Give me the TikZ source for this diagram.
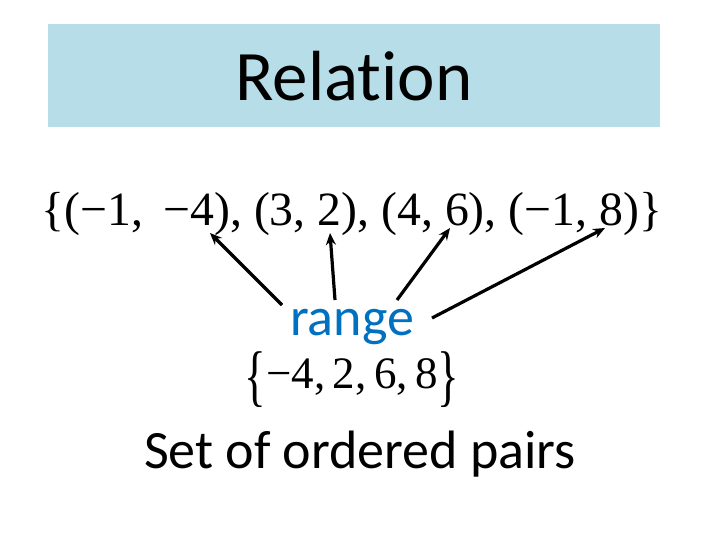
\documentclass[tikz,border=0pt]{standalone}
\usepackage{fontspec}
\setmainfont{Carlito}[Ligatures={NoCommon}]
\newfontfamily\tms{Liberation Serif}
\usetikzlibrary{arrows.meta}
\definecolor{titlebg}{HTML}{B7DEE8}
\definecolor{rangeblue}{HTML}{0070C0}
\tikzset{
  conn/.style={line width=3.2pt,-{Stealth[length=12pt,width=10pt]}},
  cal/.style={inner sep=0pt,anchor=base,font=\fontsize{54}{60}\selectfont}
}
\begin{document}
\begin{tikzpicture}[x=1pt,y=-1pt]
\useasboundingbox (0,0) rectangle (720,540);
\fill[white] (0,0) rectangle (720,540);
\node[fill=titlebg,minimum width=612pt,minimum height=103pt,inner sep=0pt] (titlebox) at (354,75.5) {};
\node[inner sep=0pt,anchor=base,font=\fontsize{71}{80}\selectfont] (title) at (354,101) {Relation};
\node[inner sep=0pt,anchor=base] (pairs) at (352,225)
  {\resizebox{620pt}{!}{\tms\fontsize{48}{54}\selectfont \{(−1,\, −4), (3, 2), (4, 6), (−1, 8)\}}};
\node[cal,text=rangeblue] (range) at (352,335) {range};
\node[inner sep=0pt,anchor=base] (rset) at (352,388)
  {\tms\fontsize{45}{50}\selectfont\raisebox{-10pt}{\scalebox{1}[1.5]{\{}}−4,\,2,\,6,\,8\raisebox{-10pt}{\scalebox{1}[1.5]{\}}}};
\node[cal] (caption) at (360,468) {Set of ordered pairs};
\coordinate (t1) at (282,305);
\coordinate (h1) at (210,233);
\coordinate (t2) at (335,300);
\coordinate (h2) at (330,233);
\coordinate (t3) at (397,300);
\coordinate (h3) at (450,228);
\coordinate (t4) at (432,318);
\coordinate (h4) at (605,228);
\draw[conn] (t1) -- (h1);
\draw[conn] (t2) -- (h2);
\draw[conn] (t3) -- (h3);
\draw[conn] (t4) -- (h4);
\end{tikzpicture}
\end{document}
